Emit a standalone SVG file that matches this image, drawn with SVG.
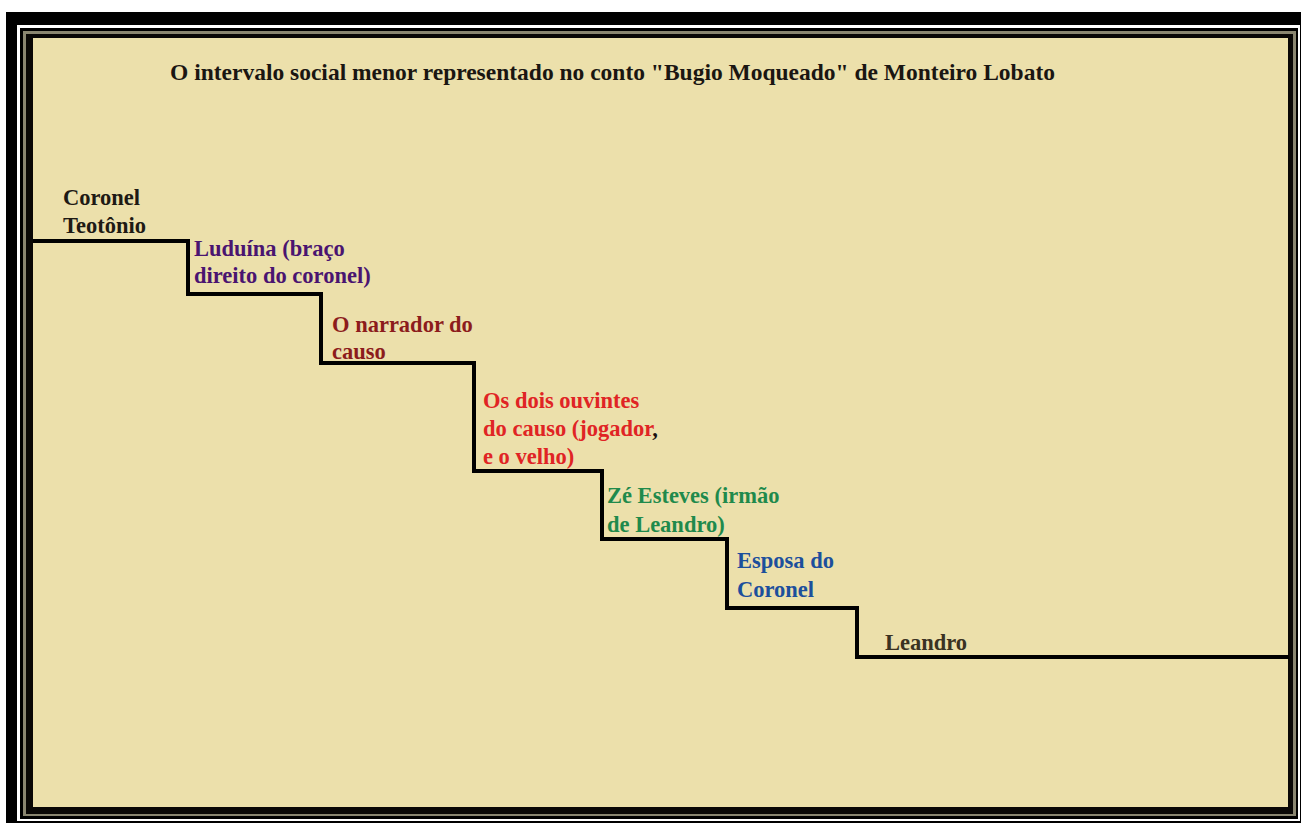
<svg xmlns="http://www.w3.org/2000/svg" width="1301" height="825" viewBox="0 0 1301 825">
<style>
.t{font-family:"Liberation Serif","Times New Roman",serif;font-weight:bold;font-size:22.5px}
.title{font-size:23px}
.step{fill:none;stroke:#000;stroke-width:4;stroke-linejoin:miter}
</style>
<rect x="0" y="0" width="1301" height="825" fill="#fff"/>
<g id="frame">
<rect x="6" y="12" width="1295" height="811" fill="#000"/>
<rect x="17" y="25" width="1283" height="796" fill="#fff"/>
<rect x="20" y="28" width="1278" height="791" fill="#000"/>
<rect x="23" y="31" width="1273" height="785" fill="#8a8670"/>
<rect x="26" y="34" width="1267" height="780" fill="#0a0806"/>
<rect x="33" y="38" width="1255" height="769" fill="#ece0ab"/>
</g>
<g id="title">
<text class="t title" x="170" y="80" textLength="885" lengthAdjust="spacingAndGlyphs" fill="#1a1612">O intervalo social menor representado no conto "Bugio Moqueado" de Monteiro Lobato</text>
</g>
<g id="connectors">
<polyline class="step" points="33,241 188,241 188,294 321,294 321,363 474,363 474,471 602,471 602,539 727,539 727,608 857,608 857,657 1289,657"/>
</g>
<g id="coronel">
<text class="t" x="63" y="205" fill="#1e1a14">Coronel</text>
<text class="t" x="63" y="233" fill="#1e1a14">Teotônio</text>
</g>
<g id="luduina">
<text class="t" x="194" y="256" fill="#4a1470">Luduína (braço</text>
<text class="t" x="194" y="283" fill="#4a1470">direito do coronel)</text>
</g>
<g id="narrador">
<text class="t" x="332" y="332" fill="#8c1c1c">O narrador do</text>
<text class="t" x="332" y="359" fill="#8c1c1c">causo</text>
</g>
<g id="ouvintes">
<text class="t" x="483" y="408" fill="#e02424">Os dois ouvintes</text>
<text class="t" x="483" y="436" fill="#e02424">do causo (jogador<tspan fill="#1a1010">,</tspan></text>
<text class="t" x="483" y="464" fill="#e02424">e o velho)</text>
</g>
<g id="ze-esteves">
<text class="t" x="607" y="503" fill="#1f8a4c">Zé Esteves (irmão</text>
<text class="t" x="607" y="532" fill="#1f8a4c">de Leandro)</text>
</g>
<g id="esposa">
<text class="t" x="737" y="568" fill="#1c4f9c">Esposa do</text>
<text class="t" x="737" y="597" fill="#1c4f9c">Coronel</text>
</g>
<g id="leandro">
<text class="t" x="885" y="650" fill="#3a3222">Leandro</text>
</g>
</svg>
